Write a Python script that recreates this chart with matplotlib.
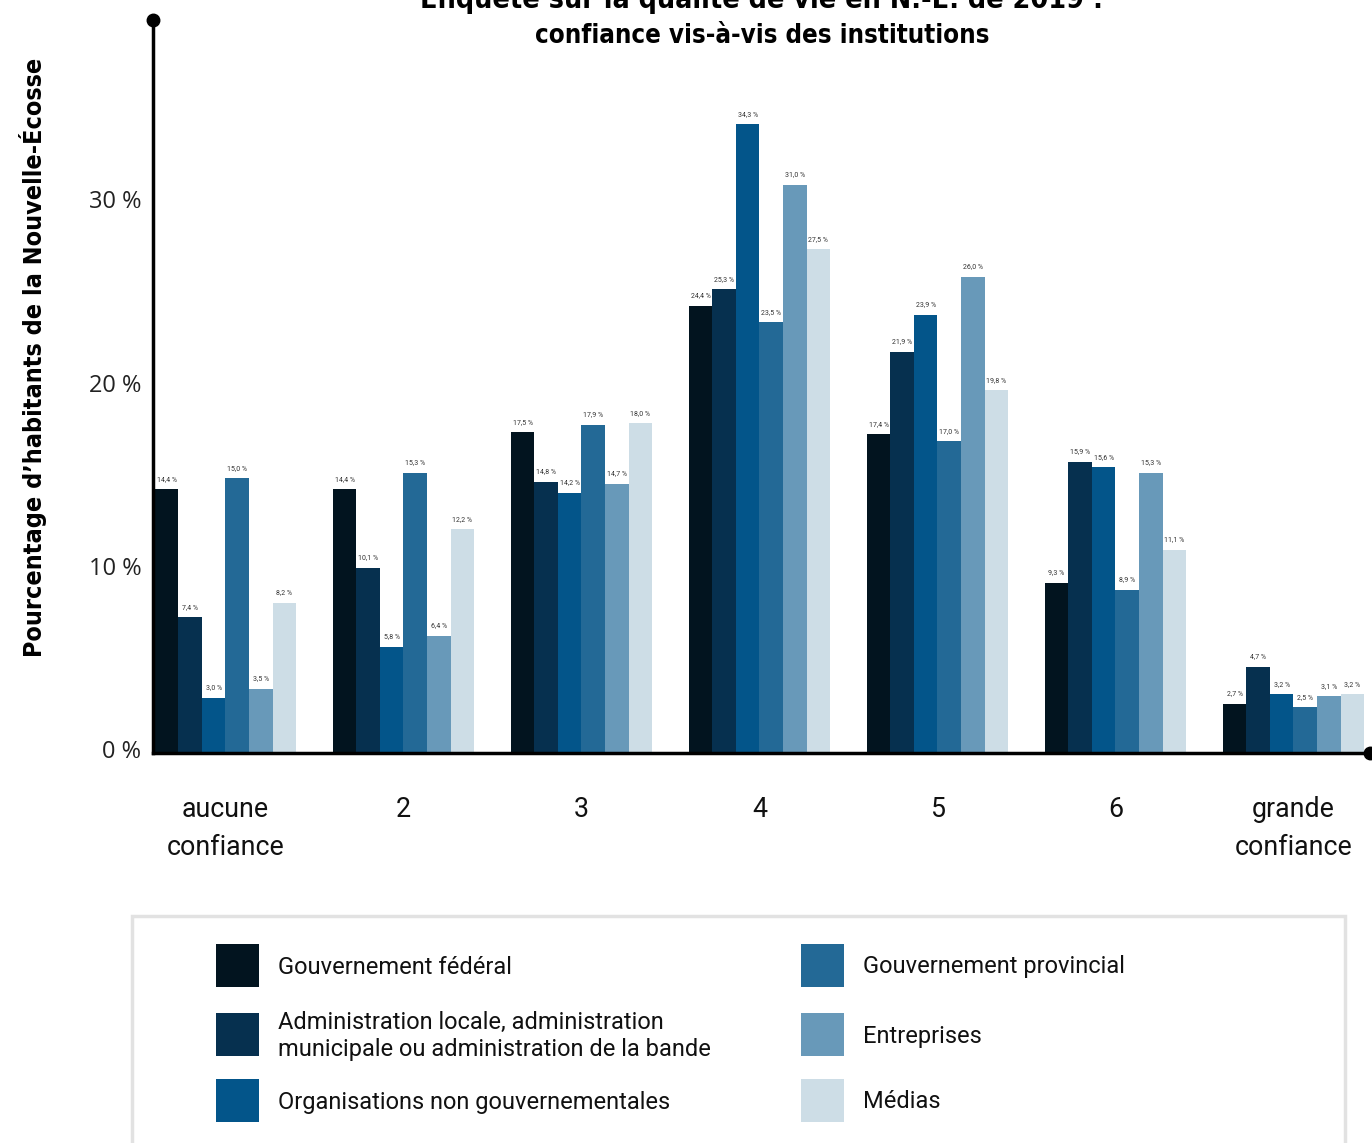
import matplotlib
matplotlib.use("Agg")
import matplotlib.pyplot as plt
import numpy as np
import matplotlib.transforms as mtransforms
from matplotlib.patches import Rectangle

categories = ["aucune\nconfiance", "2", "3", "4", "5", "6", "grande\nconfiance"]
series_names = ["Gouvernement fédéral",
                "Administration locale, administration\nmunicipale ou administration de la bande",
                "Organisations non gouvernementales",
                "Gouvernement provincial",
                "Entreprises",
                "Médias"]
federal = [14.4, 14.4, 17.5, 24.4, 17.4, 9.3, 2.7]
local = [7.4, 10.1, 14.8, 25.3, 21.9, 15.9, 4.7]
ngo = [3.0, 5.8, 14.2, 34.3, 23.9, 15.6, 3.2]
provincial = [15.0, 15.3, 17.9, 23.5, 17.0, 8.9, 2.5]
entreprises = [3.5, 6.4, 14.7, 31.0, 26.0, 15.3, 3.1]
medias = [8.2, 12.2, 18.0, 27.5, 19.8, 11.1, 3.2]
series = [federal, local, ngo, provincial, entreprises, medias]
colors = ["#02141f", "#06304f", "#03558a", "#236996", "#6899b9", "#cddde6"]
yticks = [0, 10, 20, 30]
ytick_labels = ["0 %", "10 %", "20 %", "30 %"]

W, H = 1372, 1143
fig = plt.figure(figsize=(W / 100, H / 100), dpi=100)
ax = fig.add_axes([153 / W, (H - 753) / H, (1370 - 153) / W, (753 - 20) / H])

n = len(series)
bw = 0.1324
x = np.arange(len(categories))
for i, (vals, c) in enumerate(zip(series, colors)):
    xs = x + (i - (n - 1) / 2) * bw
    ax.bar(xs, vals, width=bw, color=c, zorder=2)
    for xi, v in zip(xs, vals):
        ax.text(xi, v + 0.35, f"{v:.1f}".replace(".", ",") + " %", ha="center", va="bottom",
                fontsize=5, color="#333333", family="Roboto")

ax.set_xlim(-0.407, 6.43)
ax.set_ylim(0, 40)
for s in ["top", "right"]:
    ax.spines[s].set_visible(False)
for s in ["left", "bottom"]:
    ax.spines[s].set_linewidth(2.5)
    ax.spines[s].set_color("black")
    ax.spines[s].set_zorder(3)
ax.plot([0], [1], marker="o", markersize=9, color="black", transform=ax.transAxes, clip_on=False, zorder=4)
ax.plot([1], [0], marker="o", markersize=9, color="black", transform=ax.transAxes, clip_on=False, zorder=4)

ax.set_yticks(yticks)
ax.set_yticklabels(ytick_labels, family="Open Sans", fontsize=17, color="#222222")
ax.tick_params(axis="y", length=0, pad=8.5)
for lab in ax.get_yticklabels():
    lab.set_transform(lab.get_transform() + mtransforms.ScaledTranslation(0, 4 / 100, fig.dpi_scale_trans))

ax.set_xticks(x)
ax.set_xticklabels(categories, family="Roboto", fontsize=19.3, color="#111111", linespacing=1.5, va="top")
ax.tick_params(axis="x", length=0, pad=31)

tkw = dict(fontweight="bold", family="DejaVu Sans", fontstretch="condensed")
fig.text(762 / W, 1 - (-2) / H, "Enquête sur la qualité de vie en N.-É. de 2019 :", ha="center", va="center",
         fontsize=20.5, **tkw)
fig.text(762 / W, 1 - 36 / H, "confiance vis-à-vis des institutions", ha="center", va="center",
         fontsize=18.5, **tkw)
fig.text(33 / W, 1 - 357 / H, "Pourcentage d\u2019habitants de la Nouvelle-\u00c9cosse", ha="center", va="center",
         rotation=90, fontsize=18, **tkw)

# legend box
fig.patches.append(Rectangle((132 / W, -0.02), (1345 - 132) / W, (1143 - 916) / H + 0.02, transform=fig.transFigure,
                             facecolor="white", edgecolor="#e2e2e2", linewidth=2.5, clip_on=False))
rows = [965, 1034, 1100]
cols = [(216, 278), (801, 863)]
for k, (name, c) in enumerate(zip(series_names, colors)):
    col = k // 3
    row = k % 3
    sx, tx = cols[col]
    cy = rows[row]
    fig.patches.append(Rectangle((sx / W, (H - cy - 21.5) / H), 43 / W, 43 / H, transform=fig.transFigure,
                                 facecolor=c, edgecolor="none"))
    fig.text(tx / W, (H - cy - 2) / H, name, ha="left", va="center", fontsize=17, family="Roboto",
             color="#111111", linespacing=1.2)

fig.savefig("out.png", dpi=100)
